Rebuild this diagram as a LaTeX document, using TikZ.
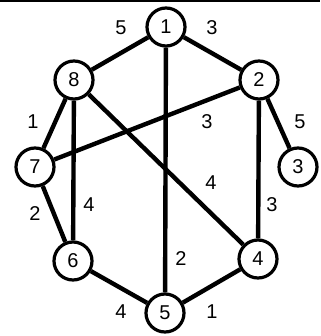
\documentclass[tikz,border=0pt]{standalone}
\usepackage{fontspec}
\setmainfont{Liberation Sans}
\begin{document}
\begin{tikzpicture}[x=1pt, y=-1pt,
    vertex/.style={circle, draw, line width=3.2pt, minimum size=38pt, inner sep=0pt, font=\fontsize{20}{20}\selectfont},
    edge/.style={line width=4.4pt},
    weight/.style={font=\fontsize{20}{20}\selectfont}]
  \useasboundingbox (0,0) rectangle (320,336);
  \draw[line width=2pt] (0,1) -- (320,1); %
  \node[vertex] (v1) at (166,27) {1}; %
  \node[vertex] (v2) at (259,80) {2}; %
  \node[vertex] (v3) at (298,167) {3}; %
  \node[vertex] (v4) at (258,259) {4}; %
  \node[vertex] (v5) at (165,313) {5}; %
  \node[vertex] (v6) at (73,261) {6}; %
  \node[vertex] (v7) at (35,167) {7}; %
  \node[vertex] (v8) at (74,80) {8}; %
  \draw[edge] (v1) -- (v8) (v1) -- (v2) (v1) -- (v5); %
  \draw[edge] (v2) -- (v7) (v2) -- (v3) (v2) -- (v4); %
  \draw[edge] (v8) -- (v7) (v8) -- (v6) (v8) -- (v4); %
  \draw[edge] (v7) -- (v6) (v6) -- (v5) (v5) -- (v4); %
  \node[weight] (w18) at (121,28) {5}; %
  \node[weight] (w12) at (212,28) {3}; %
  \node[weight] (w27) at (207,122) {3}; %
  \node[weight] (w23) at (300,122) {5}; %
  \node[weight] (w87) at (33,122) {1}; %
  \node[weight] (w84) at (211,183) {4}; %
  \node[weight] (w24) at (272,205) {3}; %
  \node[weight] (w76) at (35,214) {2}; %
  \node[weight] (w86) at (89,205) {4}; %
  \node[weight] (w15) at (181,259) {2}; %
  \node[weight] (w65) at (121,312) {4}; %
  \node[weight] (w54) at (212,312) {1}; %
\end{tikzpicture}
\end{document}
